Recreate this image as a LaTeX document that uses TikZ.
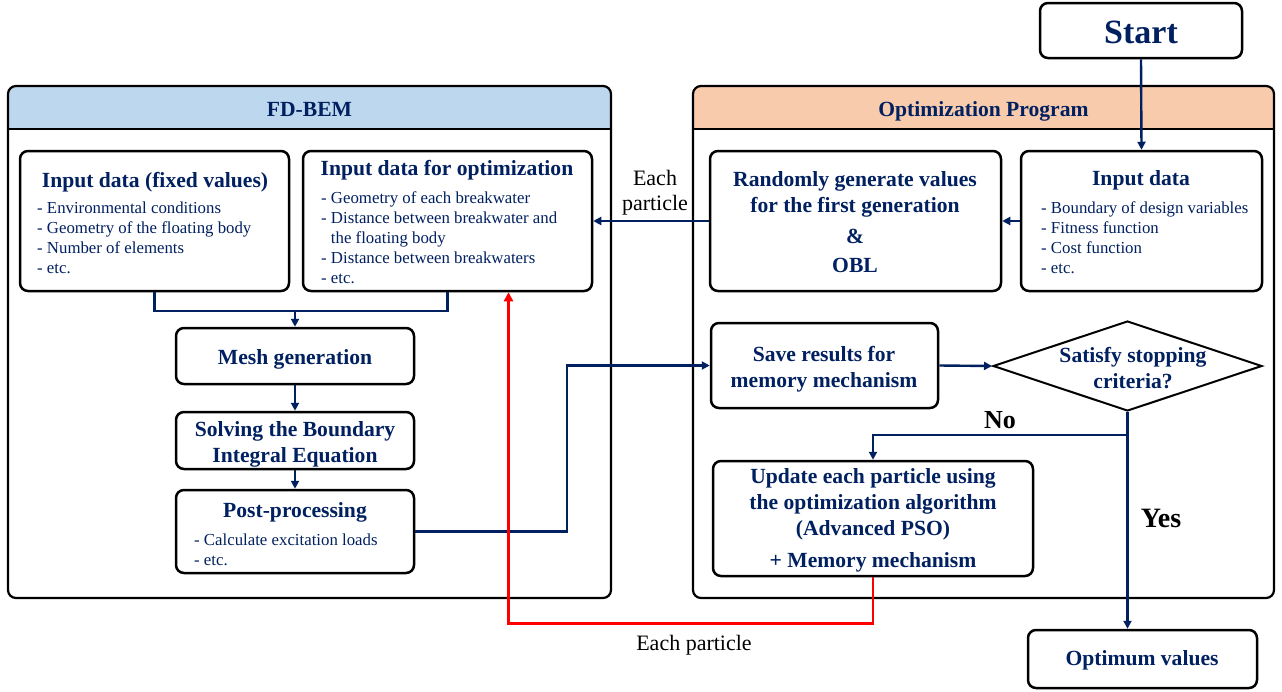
\documentclass[tikz,border=0pt]{standalone}
\usepackage{fontspec}
\setmainfont{Liberation Serif}
\usetikzlibrary{shapes.geometric,arrows.meta,calc}
\definecolor{navy}{RGB}{0,32,96}
\definecolor{hblue}{RGB}{189,215,238}
\definecolor{hpeach}{RGB}{248,203,173}
\begin{document}
\begin{tikzpicture}[x=1pt,y=-1pt,
  box/.style={draw=black,line width=2.5pt,rounded corners=8pt,fill=white,inner sep=0pt},
  ttl/.style={text=navy,font=\fontsize{21.6}{26}\selectfont\bfseries,align=center,inner sep=0pt,anchor=base},
  bul/.style={text=navy,font=\fontsize{16.8}{20}\selectfont,align=left,anchor=base west,inner sep=0pt},
  lbl/.style={text=black,font=\fontsize{22}{25}\selectfont,align=center,inner sep=0pt,anchor=base},
  flow/.style={draw=navy,line width=2.4pt,-{Triangle[length=8pt,width=8pt]}},
  link/.style={draw=navy,line width=2.4pt},
  redflow/.style={draw=red,line width=2.6pt,-{Triangle[length=9pt,width=9pt]}},
  panel/.style={draw=black,line width=2.2pt,rounded corners=8pt}]
\useasboundingbox (0,0) rectangle (1282,691);

% ---------- panels ----------
\fill[hblue] (8,129) [rounded corners=8pt] -- (8,86) -- (611,86) [sharp corners] -- (611,129) -- cycle;
\draw[line width=2.2pt] (8,129) -- (611,129);
\draw[panel] (8,86) rectangle (611,598);
\node[ttl] (hfd) at (309.5,116) {FD-BEM};

\fill[hpeach] (693,129) [rounded corners=8pt] -- (693,86) -- (1274,86) [sharp corners] -- (1274,129) -- cycle;
\draw[line width=2.2pt] (693,129) -- (1274,129);
\draw[panel] (693,86) rectangle (1274,598);
\node[ttl] (hop) at (983.5,116) {Optimization Program};

% ---------- boxes ----------
\node[box,minimum width=202pt,minimum height=55pt] (start) at (1141,30.5) {};
\node[text=navy,font=\fontsize{34}{38}\selectfont\bfseries,inner sep=0pt,anchor=base] (tstart) at (1141,43) {Start};

\node[box,minimum width=269pt,minimum height=140pt] (fixed) at (154.5,221) {};
\node[ttl] (tfixed) at (155,187) {Input data (fixed values)};
\node[bul] (bfixed) at (37,273) {- Environmental conditions\\- Geometry of the floating body\\- Number of elements\\- etc.};

\node[box,minimum width=289pt,minimum height=140pt] (optin) at (447.5,221) {};
\node[ttl] (toptin) at (447,175) {Input data for optimization};
\node[bul] (boptin) at (321,283) {- Geometry of each breakwater\\- Distance between breakwater and\\\phantom{- }the floating body\\- Distance between breakwaters\\- etc.};

\node[box,minimum width=291pt,minimum height=140pt] (rand) at (855.5,221) {};
\node[ttl] (trand) at (855,212) {Randomly generate values\\for the first generation};
\node[ttl] (tamp) at (855,243) {\&};
\node[ttl] (tobl) at (855,272) {OBL};

\node[box,minimum width=241pt,minimum height=140pt] (inr) at (1141.5,221) {};
\node[ttl] (tinr) at (1141,185) {Input data};
\node[bul] (binr) at (1041,273) {- Boundary of design variables\\- Fitness function\\- Cost function\\- etc.};

\node[box,minimum width=238pt,minimum height=56pt] (mesh) at (295,356) {};
\node[ttl] (tmesh) at (295,364) {Mesh generation};

\node[box,minimum width=238pt,minimum height=57pt] (solve) at (295,440.5) {};
\node[ttl] (tsolve) at (295,462) {Solving the Boundary\\Integral Equation};

\node[box,minimum width=238pt,minimum height=83pt] (post) at (295,531.5) {};
\node[ttl] (tpost) at (295,517) {Post-processing};
\node[bul] (bpost) at (194,565) {- Calculate excitation loads\\- etc.};

\node[box,minimum width=227pt,minimum height=85pt] (save) at (824.5,365.5) {};
\node[ttl] (tsave) at (824,387) {Save results for\\memory mechanism};

\node[diamond,draw=black,line width=2pt,fill=white,minimum width=269pt,minimum height=90pt,inner sep=0pt] (dia) at (1127.5,366) {};
\node[ttl] (tdia) at (1133,388) {Satisfy stopping\\criteria?};

\node[box,minimum width=320pt,minimum height=115pt] (update) at (873,518.5) {};
\node[ttl] (tupd) at (873,535) {Update each particle using\\the optimization algorithm\\(Advanced PSO)};
\node[ttl] (tmem) at (873,567) {+ Memory mechanism};

\node[box,minimum width=229pt,minimum height=58pt] (optv) at (1142.5,659) {};
\node[ttl] (toptv) at (1142,665) {Optimum values};

% ---------- connectors ----------
\draw[flow] (start.south) -- (inr.north);
\draw[flow] (inr.west) -- (rand.east);
\draw[flow] (rand.west) -- (optin.east);
\node[lbl] (lep1) at (655,210) {Each\\particle};

\draw[link] (fixed.south) -- ++(0,19) -| (optin.south);
\coordinate (jn) at (295,310);
\draw[flow] (jn) -- (mesh.north);
\draw[flow] (mesh.south) -- (solve.north);
\draw[flow] (solve.south) -- (post.north);

\draw[flow] (post.east) -- ++(152,0) |- (save.west);
\draw[flow] (save.east) -- (dia.west);

\draw[flow] (dia.south) -- (dia.south |- optv.north);
\coordinate (nojn) at ($(dia.south)+(0,23)$);
\draw[flow] (nojn) -| (update.north);
\node[font=\fontsize{26}{28}\selectfont\bfseries,inner sep=0pt,anchor=base] (lno) at (1000,428) {No};
\node[font=\fontsize{28}{30}\selectfont\bfseries,inner sep=0pt,anchor=base] (lyes) at (1161,527) {Yes};

\draw[redflow] (update.south) -- ++(0,46) -| ($(optin.south)+(61,0)$);
\node[lbl] (lep2) at (694,650) {Each particle};
\end{tikzpicture}
\end{document}
